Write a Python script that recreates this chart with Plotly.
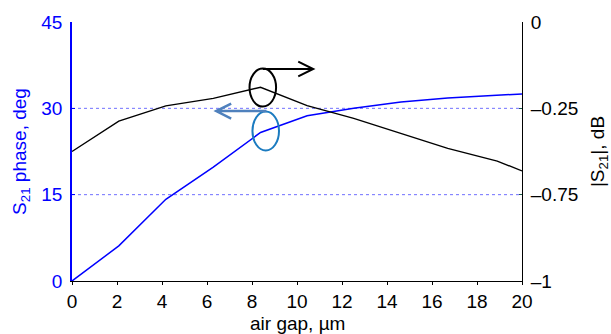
import plotly.graph_objects as go

# data
air_gap_um = [0, 2.08, 4.17, 6.28, 8.38, 10.45, 12.52, 14.62, 16.7, 18.9, 20]
phase_deg = [0, 6.1, 14.2, 19.8, 25.8, 28.7, 30.0, 31.1, 31.8, 32.3, 32.5]
s21_mag_axis = [-0.50, -0.383, -0.324, -0.295, -0.252, -0.323, -0.372, -0.430, -0.488, -0.537, -0.575]

left_ticks = [0, 15, 30, 45]
right_tickvals = [-1, -2/3, -1/3, 0]
right_ticktext = ["\u20131", "\u20130.75", "\u20130.25", "0"]
x_ticks = list(range(0, 21, 2))

FONT = "Liberation Sans, Arial, sans-serif"
FS = 19

fig = go.Figure()
fig.add_trace(go.Scatter(x=air_gap_um, y=phase_deg, mode="lines",
                         line=dict(color="#0000ff", width=1.5), showlegend=False))
fig.add_trace(go.Scatter(x=air_gap_um, y=s21_mag_axis, mode="lines", yaxis="y2",
                         line=dict(color="#000000", width=1.4), showlegend=False))

shapes = []
for g in [15, 30]:
    shapes.append(dict(type="line", xref="x", yref="y", x0=0, x1=20, y0=g, y1=g,
                       line=dict(color="#7070ff", width=1, dash="dot"), layer="below"))

# annotation ellipses
shapes.append(dict(type="circle", xref="x", yref="y", x0=7.89, x1=9.07, y0=30.3, y1=36.9,
                   line=dict(color="#000000", width=2)))
shapes.append(dict(type="circle", xref="x", yref="y", x0=8.02, x1=9.2, y0=22.67, y1=29.45,
                   line=dict(color="#1b7bc0", width=2)))
# arrows (open chevrons)
ya = 36.83
shapes.append(dict(type="path", xref="x", yref="y",
                   path=f"M 8.48 {ya} L 10.72 {ya} M {10.72-0.665} {ya+1.27} L 10.72 {ya} L {10.72-0.665} {ya-1.27}",
                   line=dict(color="#000000", width=2)))
yb = 29.53
shapes.append(dict(type="path", xref="x", yref="y",
                   path=f"M 8.64 {yb} L 6.41 {yb} M {6.41+0.665} {yb+1.3} L 6.41 {yb} L {6.41+0.665} {yb-1.3}",
                   line=dict(color="#4f81bd", width=2.5)))

fig.update_layout(
    width=611, height=334,
    margin=dict(l=71.5, r=89, t=22, b=53),
    paper_bgcolor="white", plot_bgcolor="white",
    font=dict(family=FONT, size=FS, color="black"),
    shapes=shapes,
    annotations=[dict(text="air gap, \u00b5m", xref="paper", yref="paper",
                      x=0.5, y=-0.163, xanchor="center", yanchor="middle",
                      showarrow=False, font=dict(size=FS, color="black"))],
    xaxis=dict(range=[0, 20], tickvals=x_ticks, showgrid=False, zeroline=False,
               showline=True, linecolor="black", linewidth=1, automargin=False,
               ticks="outside", ticklen=3, tickcolor="black", ticklabelstandoff=0,
               tickfont=dict(size=FS)),
    yaxis=dict(range=[0, 45], tickvals=left_ticks, showgrid=False, zeroline=False,
               showline=True, linecolor="#0000ff", linewidth=1.5, automargin=False,
               ticks="inside", ticklen=3, tickcolor="#0000ff", ticklabelstandoff=4,
               tickfont=dict(size=FS, color="#0000ff"),
               title=dict(text="S<sub>21</sub> phase, deg", standoff=10,
                          font=dict(size=FS, color="#0000ff"))),
    yaxis2=dict(range=[-1, 0], overlaying="y", side="right", anchor="x",
                tickvals=right_tickvals, ticktext=right_ticktext,
                showgrid=False, zeroline=False, automargin=False,
                showline=True, linecolor="black", linewidth=1,
                ticks="inside", ticklen=3, tickcolor="#1a5a4a", ticklabelstandoff=4,
                tickfont=dict(size=FS, color="black"),
                title=dict(text="|S<sub>21</sub>|, dB", standoff=14,
                           font=dict(size=FS, color="black"))),
)

fig.write_html("out.html")
